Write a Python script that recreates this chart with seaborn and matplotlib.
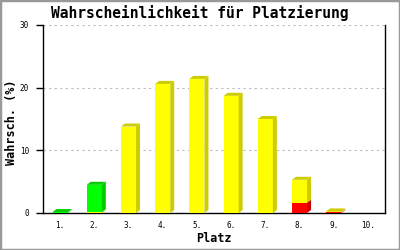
import matplotlib
matplotlib.use("Agg")
import matplotlib.pyplot as plt
import seaborn as sns
import numpy as np
import pandas as pd
from matplotlib.patches import Polygon, Rectangle

categories = ["1.", "2.", "3.", "4.", "5.", "6.", "7.", "8.", "9.", "10."]
red_vals = [0.0, 0.0, 0.0, 0.0, 0.0, 0.0, 0.0, 1.65, 0.1, 0.0]
yellow_vals = [0.0, 0.15, 13.8, 20.6, 21.4, 18.7, 15.0, 3.65, 0.15, 0.0]
green_vals = [0.15, 4.35, 0.0, 0.0, 0.0, 0.0, 0.0, 0.0, 0.0, 0.0]
y_ticks = [0, 10, 20, 30]

title = "Wahrscheinlichkeit für Platzierung"
xlabel = "Platz"
ylabel = "Wahrsch. (%)"

sns.set_theme(style="white")
plt.rcParams["font.family"] = ["DejaVu Sans Mono"]
plt.rcParams["text.color"] = "black"
plt.rcParams["xtick.color"] = "black"
plt.rcParams["ytick.color"] = "black"
plt.rcParams["xtick.labelcolor"] = "black"
plt.rcParams["ytick.labelcolor"] = "black"

fig = plt.figure(figsize=(4, 2.5), dpi=100)
ax = fig.add_axes([43 / 400, 37 / 250, 342 / 400, 188 / 250])

layers = [
    ("red", red_vals, "#ff0000", "#cc0000"),
    ("yellow", yellow_vals, "#ffff00", "#cccc00"),
    ("green", green_vals, "#00ff00", "#00cc00"),
]
cum = np.zeros(len(categories))
cums = []
for name, vals, front, side in layers:
    lower = cum.copy()
    cum = cum + np.array(vals)
    cums.append((lower, cum.copy(), front, side))

bar_w = 0.44
for lower, upper, front, side in reversed(cums):
    df = pd.DataFrame({"Platz": categories, "v": upper})
    sns.barplot(data=df, x="Platz", y="v", order=categories, color=front,
                saturation=1, width=bar_w, linewidth=0, edgecolor="none",
                ax=ax, zorder=3)

ax.set_xlim(-0.5, len(categories) - 0.5)
ax.set_ylim(0, 30)

px_x = 342 / len(categories)
px_y = 188 / 30
dx = 4 / px_x
dy = 3 / px_y

top_layer_idx = {}
for li, (lower, upper, front, side) in enumerate(cums):
    for i in range(len(categories)):
        if upper[i] - lower[i] > 0:
            top_layer_idx[i] = li

for li, (lower, upper, front, side) in enumerate(cums):
    for i in range(len(categories)):
        h = upper[i] - lower[i]
        if h <= 0:
            continue
        x0 = i - bar_w / 2
        x1 = i + bar_w / 2
        y0, y1 = lower[i], upper[i]
        ax.add_patch(Polygon([[x1, y0], [x1 + dx, y0 + dy], [x1 + dx, y1 + dy], [x1, y1]],
                             closed=True, facecolor=side, edgecolor="none", zorder=3))
        if top_layer_idx[i] == li:
            ax.add_patch(Polygon([[x0, y1], [x0 + dx, y1 + dy], [x1 + dx, y1 + dy], [x1, y1]],
                                 closed=True, facecolor=side, edgecolor="none", zorder=3))

ax.set_yticks(y_ticks)
ax.set_yticklabels([str(t) for t in y_ticks])
ax.set_xticks(range(len(categories)))
ax.set_xticklabels(categories)
ax.tick_params(axis="y", direction="out", length=5, width=1, color="black",
               labelsize=5.5, pad=5, left=True, labelcolor="black")
ax.tick_params(axis="x", length=0, labelsize=5.5, pad=6, labelcolor="black")

ax.set_axisbelow(True)
ax.yaxis.grid(True, color="#bbbbbb", linestyle=(0, (2, 3)), linewidth=0.8)
ax.xaxis.grid(False)
for gl, t in zip(ax.yaxis.get_gridlines(), y_ticks):
    if t == 0:
        gl.set_visible(False)

for s in ["left", "right", "bottom"]:
    ax.spines[s].set_visible(True)
    ax.spines[s].set_color("black")
    ax.spines[s].set_linewidth(1)
ax.spines["top"].set_visible(False)

ax.set_xlabel("")
ax.set_ylabel("")
fig.text(214 / 400, 1 - 239 / 250, xlabel, ha="center", va="center",
         fontsize=8.5, fontweight="bold", color="black")
fig.text(12 / 400, 1 - 122 / 250, ylabel, ha="center", va="center", rotation=90,
         fontsize=8.5, fontweight="bold", color="black")
fig.text(200 / 400, 1 - 13 / 250, title, ha="center", va="center",
         fontsize=10.5, fontweight="bold", color="black")

fig.patches.append(Rectangle((0, 0), 1, 1, transform=fig.transFigure,
                             fill=False, edgecolor="#999999", linewidth=2.5))

fig.savefig("out.png", dpi=100, facecolor="white")
